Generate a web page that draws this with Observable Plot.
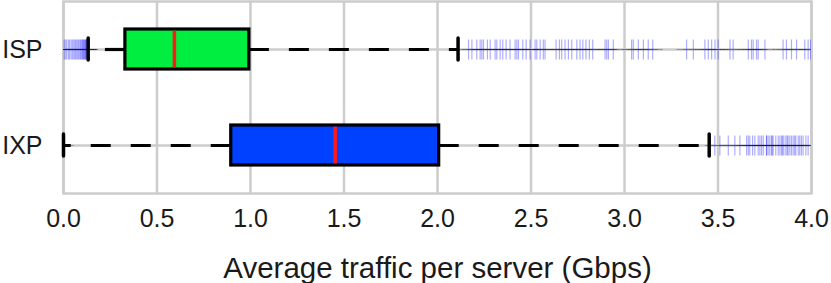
<!DOCTYPE html>
<html>
<head>
<meta charset="utf-8">
<script src="https://cdn.jsdelivr.net/npm/d3@7"></script>
<script src="https://cdn.jsdelivr.net/npm/@observablehq/plot@0.6"></script>
<style>
  html, body { margin: 0; padding: 0; background: white; }
</style>
</head>
<body>
<div id="chart"></div>
<script>
const categories = ["ISP", "IXP"];
const whiskerLow = [0.132, 0.0];
const q1 = [0.331, 0.897];
const median = [0.593, 1.453];
const q3 = [0.994, 2.009];
const whiskerHigh = [2.110, 3.453];
const boxColors = ["#00EE3F", "#0040FF"];

const ispOutliers = [
  0.004, 0.012, 0.018, 0.027, 0.033, 0.041, 0.048, 0.055, 0.061, 0.066, 0.072,
  0.078, 0.083, 0.089, 0.093, 0.098, 0.102, 0.106, 0.109, 0.113, 0.116, 0.119,
  0.121, 0.124, 0.126, 0.128, 0.130,
  2.166, 2.184, 2.210, 2.228, 2.237, 2.246, 2.267, 2.282, 2.308, 2.317, 2.335,
  2.349, 2.367, 2.388, 2.415, 2.424, 2.433, 2.456, 2.474, 2.495, 2.522, 2.531,
  2.549, 2.566, 2.575, 2.634, 2.652, 2.664, 2.682, 2.700, 2.718, 2.745, 2.762,
  2.777, 2.794, 2.812, 2.830, 2.896, 2.905, 2.914, 2.940, 3.038, 3.047, 3.074,
  3.101, 3.127, 3.151, 3.332, 3.368, 3.430, 3.448, 3.466, 3.484, 3.501, 3.564,
  3.581, 3.662, 3.679, 3.688, 3.706, 3.715, 3.751, 3.848, 3.866, 3.893, 3.920,
  3.964, 3.982, 3.995
];
const ixpOutliers = [
  0.0,
  3.483, 3.510, 3.555, 3.590, 3.617, 3.653, 3.662, 3.670, 3.685, 3.697, 3.715,
  3.724, 3.733, 3.742, 3.759, 3.768, 3.777, 3.786, 3.795, 3.809, 3.822, 3.831,
  3.845, 3.852, 3.863, 3.870, 3.884, 3.893, 3.902, 3.916, 3.929, 3.937, 3.946,
  3.955, 3.970, 3.982, 3.760, 3.790, 3.840, 3.875, 3.910
];

const xTicks = [0.0, 0.5, 1.0, 1.5, 2.0, 2.5, 3.0, 3.5, 4.0];
const axisTitle = "Average traffic per server (Gbps)";

const boxes = categories.map((c, i) => ({
  cat: c, lo: whiskerLow[i], q1: q1[i], med: median[i], q3: q3[i], hi: whiskerHigh[i], color: boxColors[i]
}));
const outliers = [
  ...ispOutliers.map(v => ({cat: "ISP", v})),
  ...ixpOutliers.map(v => ({cat: "IXP", v}))
];

const plusSymbol = {
  draw(context, size) {
    const r = Math.sqrt(size / Math.PI);
    context.moveTo(-r, 0); context.lineTo(r, 0);
    context.moveTo(0, -r); context.lineTo(0, r);
  }
};

const chart = Plot.plot({
  width: 831,
  height: 283,
  marginLeft: 63,
  marginRight: 20,
  marginTop: 1,
  marginBottom: 90,
  style: {fontFamily: "'Liberation Sans', Arial, sans-serif", fontSize: "25px", color: "#1a1a1a", background: "white"},
  x: {domain: [0, 4], ticks: xTicks, tickFormat: d3.format(".1f"), tickSize: 0, tickPadding: 16, label: null},
  y: {domain: categories, padding: 0, tickSize: 0, tickPadding: 21, label: null},
  color: {type: "identity"},
  marks: [
    Plot.ruleX(xTicks, {x: d => d, stroke: "#cccccc", strokeWidth: 2.5}),
    Plot.ruleY(categories, {y: d => d, stroke: "#cccccc", strokeWidth: 2.5}),
    Plot.frame({stroke: "#cccccc", strokeWidth: 2.5}),
    Plot.ruleY(boxes, {y: "cat", x1: "q1", x2: "lo", stroke: "black", strokeWidth: 3.2, strokeDasharray: "20,20"}),
    Plot.ruleY(boxes, {y: "cat", x1: "q3", x2: "hi", stroke: "black", strokeWidth: 3.2, strokeDasharray: "20,20"}),
    Plot.dot(outliers, {x: "v", y: "cat", symbol: plusSymbol, r: 10, fill: "none", stroke: "#0000ff", strokeOpacity: 0.32, strokeWidth: 1.2, clip: true}),
    Plot.tickX(boxes, {x: "lo", y: "cat", insetTop: 37, insetBottom: 37, stroke: "black", strokeWidth: 3.5, strokeLinecap: "round"}),
    Plot.tickX(boxes, {x: "hi", y: "cat", insetTop: 37, insetBottom: 37, stroke: "black", strokeWidth: 3.5, strokeLinecap: "round"}),
    Plot.barX(boxes, {x1: "q1", x2: "q3", y: "cat", insetTop: 28, insetBottom: 28, fill: "color", stroke: "black", strokeWidth: 3.2}),
    Plot.tickX(boxes, {x: "med", y: "cat", insetTop: 29.6, insetBottom: 29.6, stroke: "#ff1a1a", strokeWidth: 3.5}),
    Plot.text([axisTitle], {text: d => d, frameAnchor: "bottom", dy: 75, fontSize: 29.5, lineAnchor: "middle", fill: "#1a1a1a"})
  ]
});
document.getElementById("chart").appendChild(chart);
</script>
</body>
</html>
